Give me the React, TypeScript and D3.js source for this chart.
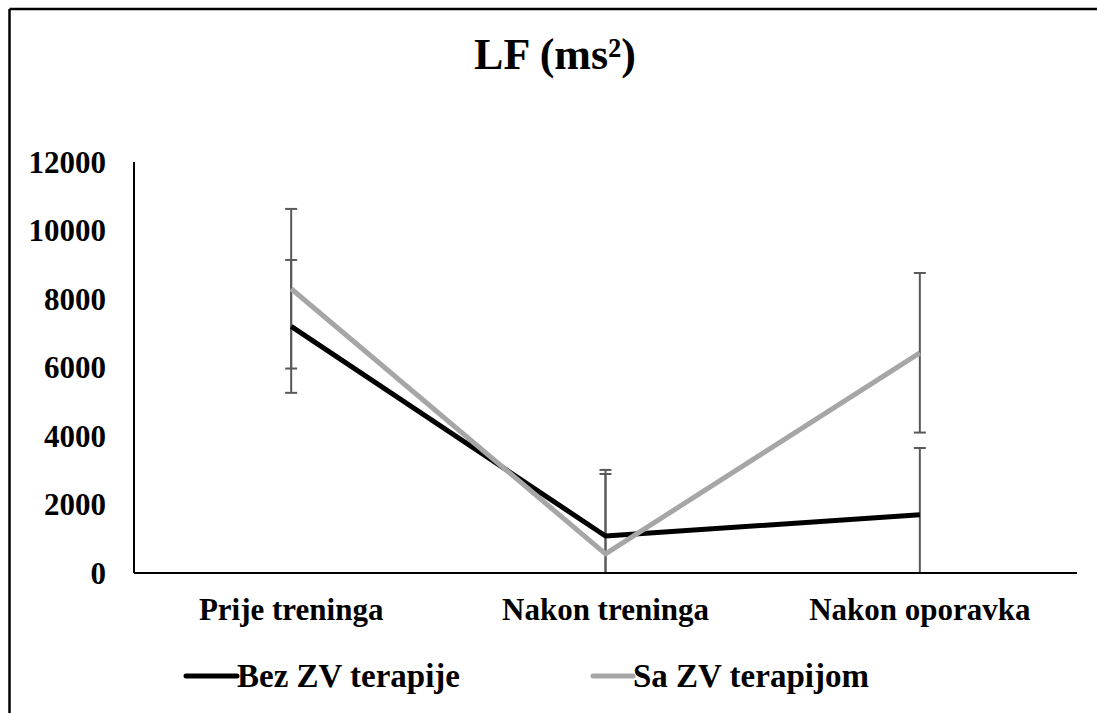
import React from "react";
import * as d3 from "d3";

const categories = ["Prije treninga", "Nakon treninga", "Nakon oporavka"];
const seriesNames = ["Bez ZV terapije", "Sa ZV terapijom"];
const bezValues = [7200, 1080, 1700];
const bezErrors = [1940, 1810, 1950];
const saValues = [8300, 560, 6430];
const saErrors = [2330, 2450, 2330];
const yTicks = [0, 2000, 4000, 6000, 8000, 10000, 12000];
const title = "LF (ms²)";

const W = 1097;
const H = 713;
const left = 134;
const right = 1077;
const top = 162;
const bottom = 573;
const FONT = "'Liberation Serif', 'Times New Roman', serif";

export default function App() {
  const x = d3.scaleBand<string>().domain(categories).range([left, right]);
  const y = d3.scaleLinear().domain([0, 12000]).range([bottom, top]);
  const cx = (c: string) => (x(c) as number) + x.bandwidth() / 2;

  const line = d3
    .line<number>()
    .x((_, i) => cx(categories[i]))
    .y((d) => y(d));

  const series = [
    { name: seriesNames[0], values: bezValues, errors: bezErrors, color: "#000000" },
    { name: seriesNames[1], values: saValues, errors: saErrors, color: "#A6A6A6" },
  ];

  const errColor = "#595959";
  const capHalf = 6;
  const legendPos = [
    { line: 186, text: 237 },
    { line: 593, text: 633 },
  ];

  return (
    <svg
      width={W}
      height={H}
      style={{ position: "absolute", left: 0, top: 0, background: "#fff" }}
      fontFamily={FONT}
    >
      <rect x={0} y={0} width={W} height={H} fill="#fff" />
      {/* chart frame */}
      <line x1={9.5} y1={9} x2={W} y2={9} stroke="#000" strokeWidth={2.5} />
      <line x1={9.5} y1={9} x2={9.5} y2={H} stroke="#000" strokeWidth={2.5} />

      <text x={555} y={69} textAnchor="middle" fontSize={44} fontWeight="bold">
        {title}
      </text>

      {/* y tick labels */}
      {yTicks.map((t) => (
        <text
          key={t}
          x={106}
          y={y(t)}
          dy="0.35em"
          textAnchor="end"
          fontSize={31}
          fontWeight="bold"
        >
          {t}
        </text>
      ))}

      {/* category labels */}
      {categories.map((c) => (
        <text key={c} x={cx(c)} y={620} textAnchor="middle" fontSize={31} fontWeight="bold">
          {c}
        </text>
      ))}

      {/* error bars */}
      {series.map((s) =>
        s.values.map((v, i) => {
          const px = cx(categories[i]);
          const hi = v + s.errors[i];
          const lo = Math.max(0, v - s.errors[i]);
          const showLoCap = v - s.errors[i] >= 0;
          return (
            <g key={s.name + i} stroke={errColor} strokeWidth={2}>
              <line x1={px} x2={px} y1={y(hi)} y2={y(lo)} />
              <line x1={px - capHalf} x2={px + capHalf} y1={y(hi)} y2={y(hi)} />
              {showLoCap && (
                <line x1={px - capHalf} x2={px + capHalf} y1={y(lo)} y2={y(lo)} />
              )}
            </g>
          );
        })
      )}

      {/* lines */}
      {series.map((s) => (
        <path
          key={s.name}
          d={line(s.values) || ""}
          fill="none"
          stroke={s.color}
          strokeWidth={5}
          strokeLinejoin="round"
        />
      ))}

      {/* axes */}
      <line x1={left} x2={left} y1={top} y2={bottom} stroke="#000" strokeWidth={2} />
      <line x1={left} x2={right} y1={bottom} y2={bottom} stroke="#000" strokeWidth={2} />

      {/* legend */}
      {series.map((s, i) => {
        const p = legendPos[i];
        return (
          <g key={s.name}>
            <line
              x1={p.line}
              x2={p.text}
              y1={676}
              y2={676}
              stroke={s.color}
              strokeWidth={5}
              strokeLinecap="round"
            />
            <text x={p.text} y={687} fontSize={33} fontWeight="bold">
              {s.name}
            </text>
          </g>
        );
      })}
    </svg>
  );
}
